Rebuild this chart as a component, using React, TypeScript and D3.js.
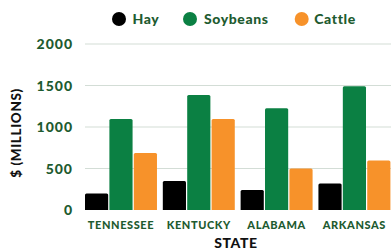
import React from "react";
import * as d3 from "d3";

const states = ["TENNESSEE", "KENTUCKY", "ALABAMA", "ARKANSAS"];
const seriesNames = ["Hay", "Soybeans", "Cattle"];
const hay = [200, 348, 240, 320];
const soybeans = [1095, 1387, 1227, 1490];
const cattle = [687, 1095, 500, 596];
const yTicks = [0, 500, 1000, 1500, 2000];
const colors = ["#000000", "#0b8043", "#f7922a"];

const W = 391;
const H = 251;
const textGreen = "#1e5b30";
const font = "Lato, 'Open Sans', sans-serif";

export default function App() {
  const values = [hay, soybeans, cattle];
  const x0 = d3.scaleBand<string>().domain(states).range([85, 390.4]).paddingInner(0.075).paddingOuter(0);
  const x1 = d3.scaleBand<string>().domain(seriesNames).range([0, x0.bandwidth()]).paddingInner(0.05);
  const y = d3.scaleLinear().domain([0, 2000]).range([210, 44]);

  const legendItems = [
    { cx: 119, tx: 132.5 },
    { cx: 190, tx: 204 },
    { cx: 301.7, tx: 314.3 },
  ];

  return (
    <svg width={W} height={H} style={{ position: "absolute", left: 0, top: 0, background: "#fff" }} fontFamily={font}>
      {legendItems.map((l, i) => (
        <g key={seriesNames[i]}>
          <circle cx={l.cx} cy={19} r={7} fill={colors[i]} />
          <text x={l.tx} y={23.5} fontSize={14} fontWeight={900} letterSpacing={0.6} fill={textGreen}>
            {seriesNames[i]}
          </text>
        </g>
      ))}
      {yTicks.map((t) => (
        <g key={t}>
          {t > 0 && <line x1={85} x2={391} y1={y(t)} y2={y(t)} stroke="#d3ddd6" strokeWidth={1.2} />}
          <text x={73} y={y(t)} dy="0.36em" textAnchor="end" fontSize={14} fontWeight={900} letterSpacing={1} fill={textGreen}>
            {t}
          </text>
        </g>
      ))}
      {states.map((s, si) => (
        <g key={s} transform={`translate(${x0(s)},0)`}>
          {seriesNames.map((n, i) => {
            const v = values[i][si];
            const yy = y(v);
            const w = x1.bandwidth();
            const r = 1.5;
            const bx = x1(n)!;
            const d = `M${bx},${y(0)}V${yy + r}Q${bx},${yy} ${bx + r},${yy}H${bx + w - r}Q${bx + w},${yy} ${bx + w},${yy + r}V${y(0)}Z`;
            return <path key={n} d={d} fill={colors[i]} />;
          })}
          <text x={x0.bandwidth() / 2} y={229} textAnchor="middle" fontSize={11} fontWeight={900} letterSpacing={0.6} fill={textGreen}>
            {s}
          </text>
        </g>
      ))}
      <text x={236} y={248} textAnchor="middle" fontSize={14} fontWeight={900} letterSpacing={0.6} fill="#111">
        STATE
      </text>
      <text transform={`translate(21,133) rotate(-90)`} textAnchor="middle" fontSize={13.5} fontWeight={900} letterSpacing={0.6} fill="#111">
        $ (MILLIONS)
      </text>
    </svg>
  );
}
